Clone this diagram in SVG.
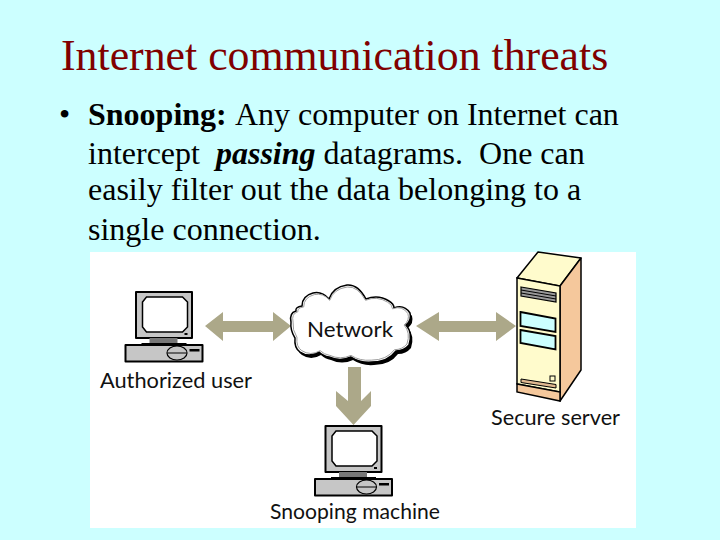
<svg xmlns="http://www.w3.org/2000/svg" width="720" height="540" viewBox="0 0 720 540">
<style>
.title{font-family:"Liberation Serif","Times New Roman",serif;font-size:43.800px;fill:#800000}
.body{font-family:"Liberation Serif","Times New Roman",serif;font-size:32px;fill:#000}
.lab{font-family:"Lato","Noto Sans",sans-serif;font-size:22px;font-weight:400;fill:#111}
.arrow{fill:#aca889;stroke:none}
.k{stroke:#000;stroke-width:2;stroke-linejoin:round}
.grey{fill:#c6c6c6}
</style>
<defs>
<path id="cloud" d="M291 322Q289 313 296 311Q295 307 302 306Q302 296 313 293Q322 291 329 299Q333 287 347 285Q358 284 366 299Q378 294 389 301Q394 304 394 308Q404 304 410 313Q412 320 406 325Q413 333 409 345Q404 351 396 351Q388 362 372 362Q360 363 351 357Q340 362 329 357Q323 356 319 352Q309 358 300 352Q294 348 295 338Q290 330 291 322Z"/>
<g id="pc">
<rect class="k grey" x="11.500" y="1" width="56" height="46" stroke-width="3"/>
<path d="M22 6H58L63 11V36L58 41H22L18 36V11Z" fill="#fff" stroke="#000" stroke-width="1.500"/>
<rect x="60" y="42" width="3" height="2" fill="#000"/>
<path d="M25 47H53V52H25Z" fill="#777"/>
<path d="M17 52H62V54H17Z" fill="#000"/>
<rect x="1" y="54" width="77" height="16.500" class="k grey"/>
<ellipse cx="52.500" cy="62" rx="10" ry="7" fill="#c6c6c6" stroke="#000" stroke-width="1.200"/>
<path d="M43 62H62" stroke="#000" stroke-width="1"/>
<rect x="65" y="58" width="10" height="2.500" fill="#000"/>
</g>
</defs>
<rect width="720" height="540" fill="#ccffff"/>
<text class="title" x="61" y="70">Internet communication threats</text>
<g class="body">
<text x="59" y="125">•</text>
<text x="88" y="125"><tspan font-weight="700">Snooping:</tspan><tspan dx="2"> Any computer on Internet can</tspan></text>
<text x="88" y="164" xml:space="preserve">intercept  <tspan font-weight="700" font-style="italic">passing</tspan> datagrams.  One can</text>
<text x="88" y="200">easily filter out the data belonging to a</text>
<text x="88" y="240">single connection.</text>
</g>
<rect x="90" y="252" width="546" height="276" fill="#fff"/>
<g id="connectors">
<path class="arrow" d="M205 326L223 312V321H273V312L291 326L273 341V332H223V341Z"/>
<path class="arrow" d="M416 326L439 312V321H496V312L516 326L496 341V332H439V341Z"/>
<path class="arrow" d="M348 367H361V401L371 391V406L353.500 425L336 406V391L348 401Z"/>
</g>
<g id="authorized-user">
<use href="#pc" x="124.500" y="291"/>
<text class="lab" x="100" y="388" textLength="152" lengthAdjust="spacingAndGlyphs">Authorized user</text>
</g>
<g id="network">
<use href="#cloud" transform="translate(2 3)" fill="#000"/>
<use href="#cloud" fill="#fff" stroke="#000" stroke-width="1.500"/>
<use href="#cloud" transform="translate(351 325) scale(.965 .95) translate(-351 -325)" fill="#fff" stroke="#999" stroke-width="1"/>
<text class="lab" x="307" y="337" textLength="86" lengthAdjust="spacingAndGlyphs">Network</text>
</g>
<g id="secure-server">
<path d="M517 278L538 252L581 258L560 286Z" fill="#fffbcc" stroke="#000" stroke-width="1.500" stroke-linejoin="round"/>
<path d="M560 286L581 258V370L560 401Z" fill="#f5c89c" stroke="#000" stroke-width="1.500" stroke-linejoin="round"/>
<path d="M517 278L560 286V392L517 384Z" fill="#fffbcc" stroke="#000" stroke-width="1.500"/>
<path d="M517 384L560 392V401L517 392Z" fill="#f5c89c" stroke="#000" stroke-width="1.500"/>
<path d="M521 287L556 293V302L521 296Z" fill="#999" stroke="#000" stroke-width="1.200"/>
<path d="M521 290L556 296M521 293L556 299" stroke="#000" stroke-width="1"/>
<path d="M520.500 312L555.500 318.500V332L520.500 326Z" fill="#ccffff" stroke="#000" stroke-width="1.800"/>
<path d="M520.500 330L555.500 336V349.500L520.500 343Z" fill="#ccffff" stroke="#000" stroke-width="1.800"/>
<path d="M521 379L556 384.500V388L521 382.500Z" fill="#e0b890" stroke="#000" stroke-width="1"/>
<rect x="550" y="376" width="5" height="5" fill="#fffbcc" stroke="#000" stroke-width="1"/>
<text class="lab" x="491" y="425" textLength="129" lengthAdjust="spacingAndGlyphs">Secure server</text>
</g>
<g id="snooping-machine">
<use href="#pc" x="314" y="425"/>
<text class="lab" x="270" y="519" textLength="170" lengthAdjust="spacingAndGlyphs">Snooping machine</text>
</g>
</svg>
